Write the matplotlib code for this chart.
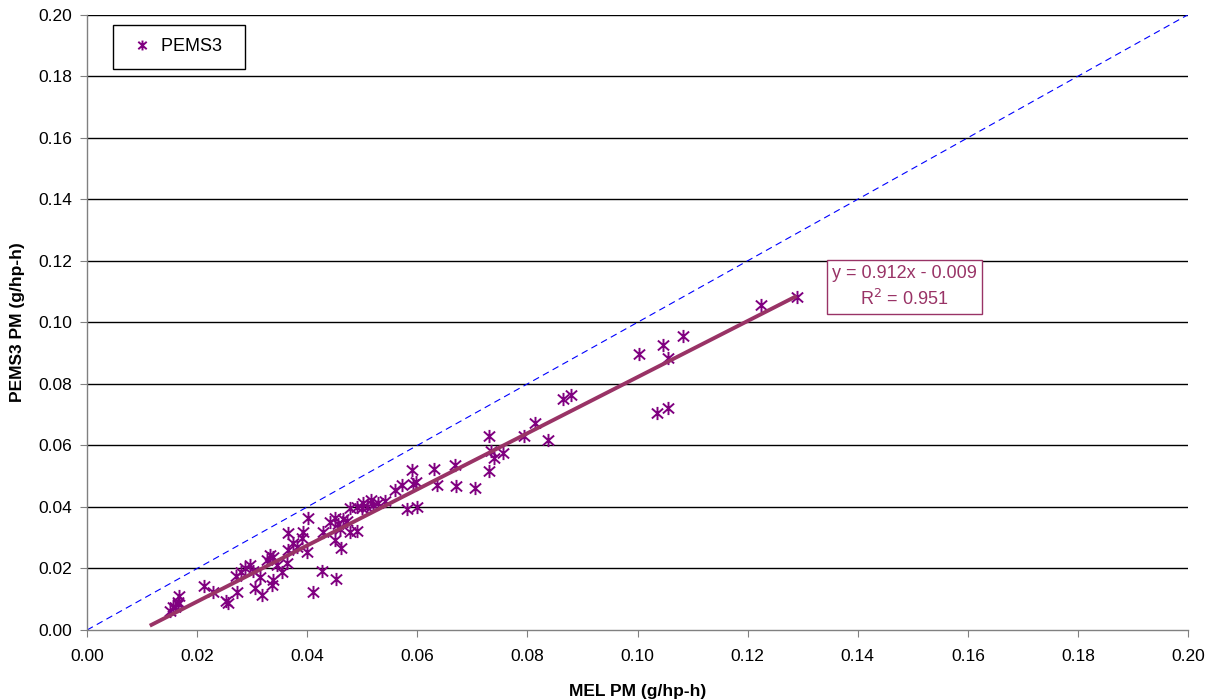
import numpy as np
import matplotlib
matplotlib.use('Agg')
import matplotlib.pyplot as plt
from matplotlib.path import Path

plt.rcParams['font.family'] = ['Liberation Sans', 'DejaVu Sans']

# MEL PM vs PEMS3 PM (g/hp-h)
mel_pm = [0.0151, 0.0156, 0.0160, 0.0165, 0.0167, 0.0165, 0.0213, 0.0229, 0.0253, 0.0256,
          0.0273, 0.0271, 0.0280, 0.0287, 0.0296, 0.0302, 0.0305, 0.0315, 0.0318, 0.0327,
          0.0333, 0.0338, 0.0338, 0.0336, 0.0345, 0.0355, 0.0364, 0.0365, 0.0365, 0.0375,
          0.0382, 0.0391, 0.0393, 0.0400, 0.0402, 0.0411, 0.0427, 0.0429, 0.0451, 0.0453,
          0.0451, 0.0455, 0.0460, 0.0462, 0.0465, 0.0473, 0.0442, 0.0478, 0.0478, 0.0491,
          0.0491, 0.0500, 0.0502, 0.0509, 0.0515, 0.0520, 0.0529, 0.0542, 0.0560, 0.0573,
          0.0582, 0.0591, 0.0593, 0.0598, 0.0600, 0.0631, 0.0636, 0.0669, 0.0671, 0.0705,
          0.0731, 0.0733, 0.0731, 0.0740, 0.0756, 0.0793, 0.0813, 0.0838, 0.0865, 0.0880,
          0.1002, 0.1047, 0.1055, 0.1082, 0.1036, 0.1056, 0.1225, 0.1289]
pems3_pm = [0.0062, 0.0075, 0.0075, 0.0084, 0.0110, 0.0091, 0.0143, 0.0123, 0.0094, 0.0088,
            0.0123, 0.0175, 0.0188, 0.0201, 0.0211, 0.0192, 0.0136, 0.0172, 0.0114, 0.0227,
            0.0243, 0.0237, 0.0162, 0.0146, 0.0211, 0.0188, 0.0218, 0.0315, 0.0260, 0.0282,
            0.0269, 0.0299, 0.0318, 0.0253, 0.0364, 0.0123, 0.0192, 0.0318, 0.0364, 0.0166,
            0.0292, 0.0344, 0.0328, 0.0266, 0.0360, 0.0354, 0.0351, 0.0396, 0.0318, 0.0321,
            0.0399, 0.0396, 0.0412, 0.0399, 0.0422, 0.0406, 0.0412, 0.0419, 0.0455, 0.0471,
            0.0393, 0.0519, 0.0474, 0.0481, 0.0399, 0.0522, 0.0471, 0.0536, 0.0468, 0.0461,
            0.0630, 0.0581, 0.0516, 0.0558, 0.0575, 0.0630, 0.0672, 0.0617, 0.0750, 0.0763,
            0.0896, 0.0925, 0.0883, 0.0955, 0.0705, 0.0721, 0.1055, 0.1081]

# Excel linear trendline as shown in the label
slope = 0.912
intercept = -0.009
r_squared = 0.951
trend_x = [0.0114, 0.1289]

# Excel "star" marker: an X with a vertical bar
star = Path([(0, -1), (0, 1), (-0.85, -0.75), (0.85, 0.75), (-0.85, 0.75), (0.85, -0.75)],
            [Path.MOVETO, Path.LINETO, Path.MOVETO, Path.LINETO, Path.MOVETO, Path.LINETO])

fig = plt.figure(figsize=(12.14, 7.0), dpi=100)
ax = fig.add_axes([0.0717, 0.1, 0.9069, 0.879])

ticks = np.arange(0, 0.2001, 0.02)
for t in ticks[1:]:
    ax.axhline(t, color='black', linewidth=1.0, zorder=1)

ax.plot([0, 0.2], [0, 0.2], color='blue', linestyle=(0, (6, 4)), linewidth=0.8, zorder=2)

ax.plot(mel_pm, pems3_pm, linestyle='none', marker=star, markersize=9.5,
        markeredgecolor='#800080', markerfacecolor='none', markeredgewidth=1.4,
        label='PEMS3', zorder=3)

tx = np.array(trend_x)
ax.plot(tx, slope * tx + intercept, color='#993366', linewidth=2.8, zorder=4,
        solid_capstyle='butt')

ax.text(0.14845, 0.1115, 'y = %.3fx - %.3f\nR$^2$ = %.3f' % (slope, -intercept, r_squared),
        color='#993366', fontsize=13, ha='center', va='center', linespacing=1.45,
        multialignment='center',
        bbox=dict(boxstyle='square,pad=0.28', facecolor='white', edgecolor='#993366', linewidth=1))

ax.set_xlim(0, 0.2)
ax.set_ylim(0, 0.2)
ax.set_xticks(ticks)
ax.set_yticks(ticks)
ax.set_xticklabels(['%.2f' % t for t in ticks])
ax.set_yticklabels(['%.2f' % t for t in ticks])
ax.tick_params(direction='out', length=5, color='#808080', labelsize=12.5)
ax.tick_params(axis='x', pad=9)
ax.tick_params(axis='y', pad=6)

for side in ['top', 'right']:
    ax.spines[side].set_visible(False)
for side in ['left', 'bottom']:
    ax.spines[side].set_color('#808080')
    ax.spines[side].set_linewidth(1.0)

ax.set_xlabel('MEL PM (g/hp-h)', fontsize=12.5, fontweight='bold', labelpad=14)
ax.set_ylabel('PEMS3 PM (g/hp-h)', fontsize=12.5, fontweight='bold', labelpad=9)

leg = ax.legend(loc='upper left', bbox_to_anchor=(0.0236, 0.984), borderaxespad=0,
                fontsize=13, fancybox=False, edgecolor='black', framealpha=1,
                borderpad=0.75, handlelength=1.7, handletextpad=0.2, markerscale=0.75)
leg.get_texts()[0].set_text('PEMS3  ')
leg.get_frame().set_linewidth(1.0)

fig.savefig('out.png', dpi=100)
